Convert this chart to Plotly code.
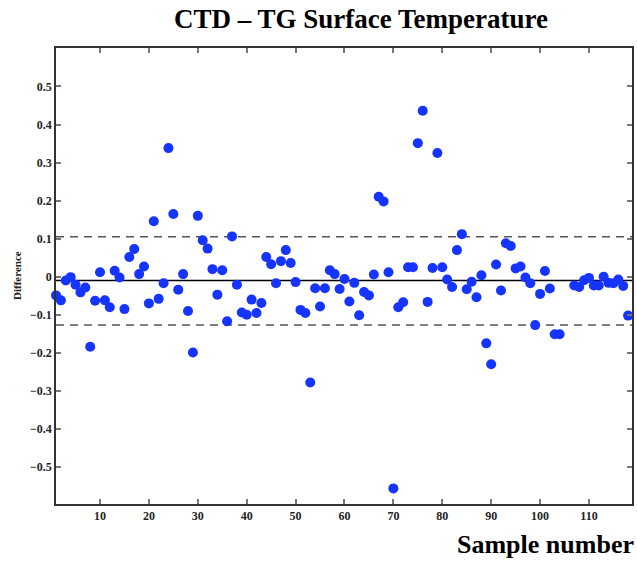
import plotly.graph_objects as go

sample = list(range(1, 105)) + list(range(107, 119))
difference = [
    -0.049, -0.062, -0.010, -0.001, -0.021, -0.041, -0.028, -0.184, -0.063, 0.012,
    -0.062, -0.080, 0.016, -0.002, -0.085, 0.052, 0.073, 0.007, 0.027, -0.070,
    0.146, -0.058, -0.017, 0.338, 0.165, -0.034, 0.007, -0.090, -0.199, 0.160,
    0.096, 0.074, 0.020, -0.047, 0.017, -0.117, 0.106, -0.021, -0.094, -0.100,
    -0.060, -0.095, -0.069, 0.052, 0.033, -0.017, 0.041, 0.070, 0.036, -0.014,
    -0.087, -0.095, -0.278, -0.030, -0.078, -0.030, 0.017, 0.007, -0.032, -0.006,
    -0.065, -0.016, -0.101, -0.040, -0.049, 0.006, 0.210, 0.198, 0.012, -0.556,
    -0.080, -0.067, 0.025, 0.025, 0.351, 0.436, -0.066, 0.023, 0.325, 0.025,
    -0.007, -0.027, 0.070, 0.112, -0.033, -0.013, -0.054, 0.004, -0.175, -0.230,
    0.032, -0.036, 0.088, 0.081, 0.022, 0.027, -0.002, -0.017, -0.127, -0.045,
    0.015, -0.031, -0.151, -0.151,
    -0.023, -0.027, -0.009, -0.003, -0.023, -0.023, 0.000, -0.016, -0.017, -0.007,
    -0.024, -0.102,
]
mean_line = -0.0095
upper_line = 0.105
lower_line = -0.127
x_ticks = list(range(10, 111, 10))
y_ticks = [round(-0.5 + 0.1 * i, 1) for i in range(11)]

SERIF = "Liberation Serif"

fig = go.Figure()
fig.add_trace(go.Scatter(
    x=sample, y=difference, mode="markers",
    marker=dict(size=10, color="rgb(22,52,255)", line=dict(width=0)),
    showlegend=False, cliponaxis=False,
))

fig.add_shape(type="line", xref="paper", x0=0, x1=1, yref="y", y0=mean_line, y1=mean_line,
              line=dict(color="black", width=1.5), layer="below")
for v in (upper_line, lower_line):
    fig.add_shape(type="line", xref="paper", x0=0, x1=1, yref="y", y0=v, y1=v,
                  line=dict(color="#555555", width=1.5, dash="8px,6px"), layer="below")

axis_common = dict(
    showgrid=False, zeroline=False, showline=True, linecolor="#333333", linewidth=1.5,
    mirror="ticks", ticks="inside", ticklen=5, tickcolor="#777777", tickwidth=1.5,
    tickfont=dict(family=SERIF, size=12, color="#222222", weight="bold"),
)
fig.update_xaxes(range=[1, 118.8], tickvals=x_ticks, **axis_common)
fig.update_yaxes(range=[-0.597, 0.601], tickvals=y_ticks, **axis_common)

fig.update_layout(
    width=637, height=563,
    margin=dict(l=56, r=3, t=48, b=59),
    paper_bgcolor="white", plot_bgcolor="white",
    annotations=[
        dict(text="<b>CTD – TG Surface Temperature</b>", x=0.53, xref="paper", y=1, yref="paper",
             showarrow=False, font=dict(family=SERIF, size=27, color="black"),
             xanchor="center", yanchor="bottom", yshift=12),
        dict(text="<b>Sample number</b>", x=1, xref="paper", y=0, yref="paper",
             showarrow=False, font=dict(family=SERIF, size=26, color="black"),
             xanchor="right", yanchor="top", yshift=-24, xshift=4),
        dict(text="<b>Difference</b>", x=0, xref="paper", y=0.5, yref="paper",
             showarrow=False, textangle=-90, font=dict(family=SERIF, size=11, color="#222222"),
             xanchor="center", yanchor="middle", xshift=-39),
    ],
)
fig.layout.annotations[0].x = (362 - 56) / (637 - 56 - 3)

fig.write_html("out.html")
